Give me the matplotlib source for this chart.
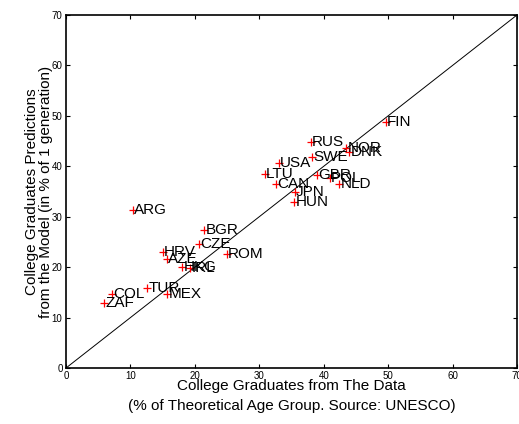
import matplotlib
matplotlib.use('Agg')
import matplotlib.pyplot as plt

plt.rcParams['font.family'] = ['Liberation Sans', 'DejaVu Sans']

countries = ['FIN', 'RUS', 'NOR', 'DNK', 'SWE', 'USA', 'LTU', 'GBR', 'POL',
             'CAN', 'NLD', 'JPN', 'HUN', 'ARG', 'BGR', 'CZE', 'HRV', 'ROM',
             'AZE', 'HKG', 'IRL', 'TUR', 'COL', 'MEX', 'ZAF']
data_pct = [49.6, 38.0, 43.5, 44.0, 38.15, 33.0, 30.85, 38.9, 40.9,
            32.6, 42.4, 35.5, 35.4, 10.4, 21.4, 20.65, 15.0, 24.95,
            15.6, 18.0, 19.25, 12.6, 7.1, 15.7, 5.9]
model_pct = [48.75, 44.8, 43.6, 42.9, 41.9, 40.7, 38.4, 38.2, 37.7,
             36.5, 36.4, 34.85, 33.0, 31.3, 27.3, 24.5, 22.95, 22.55,
             21.6, 20.1, 19.75, 15.8, 14.6, 14.6, 12.8]
ticks = [0, 10, 20, 30, 40, 50, 60, 70]
diag = [0, 70]

fig = plt.figure(figsize=(5.19, 4.24), dpi=100)
ax = fig.add_axes([0.1272, 0.1321, 0.8689, 0.8325])

ax.plot(diag, diag, color='black', lw=0.7)
ax.plot(data_pct, model_pct, '+', color='red', ms=6, mew=0.9)
for name, xv, yv in zip(countries, data_pct, model_pct):
    ax.annotate(name, (xv, yv), xytext=(1.0, 0), textcoords='offset points',
                ha='left', va='center', fontsize=11)

ax.set_xlim(0, 70)
ax.set_ylim(0, 70)
ax.set_xticks(ticks)
ax.set_yticks(ticks)
ax.tick_params(direction='in', length=3, width=0.8, top=True, right=True,
               labelsize=7, pad=2.5)
for s in ax.spines.values():
    s.set_linewidth(1.2)

ax.set_xlabel('College Graduates from The Data\n(% of Theoretical Age Group. Source: UNESCO)',
              fontsize=11, labelpad=-1.5, linespacing=1.55)
ax.set_ylabel('College Graduates Predictions\nfrom the Model (in % of 1 generation)',
              fontsize=11, labelpad=-1.0, linespacing=1.05)

fig.savefig('out.png', dpi=100)
